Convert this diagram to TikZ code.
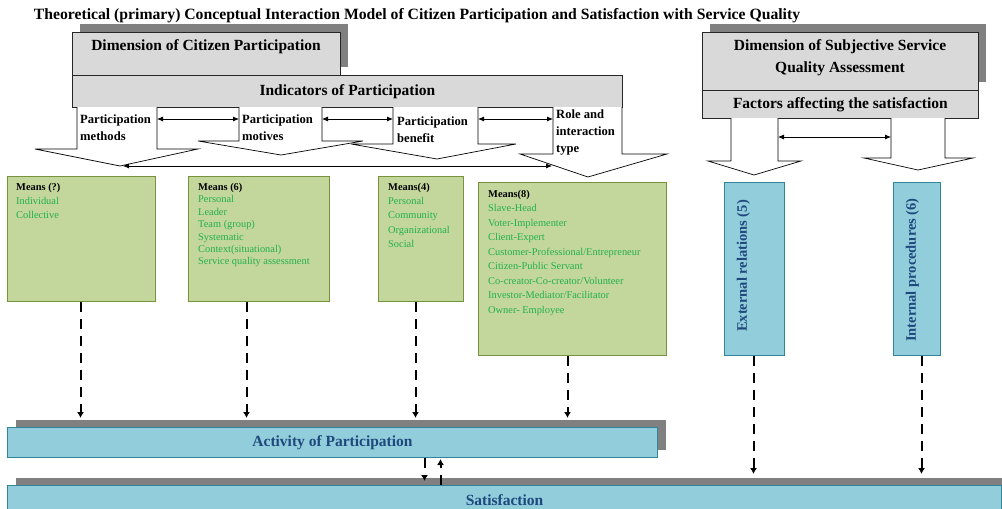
\documentclass[tikz,border=0pt]{standalone}
\usepackage{fontspec}
\setmainfont{Liberation Serif}
\usetikzlibrary{shadows,arrows.meta}
\definecolor{boxgray}{RGB}{217,217,217}
\definecolor{shgray}{RGB}{128,128,128}
\definecolor{gfill}{RGB}{195,214,155}
\definecolor{gdraw}{RGB}{118,146,60}
\definecolor{bfill}{RGB}{146,205,220}
\definecolor{bdraw}{RGB}{49,133,155}
\definecolor{btext}{RGB}{31,73,125}
\definecolor{gtext}{RGB}{34,177,76}

\begin{document}
\begin{tikzpicture}[x=1pt,y=1pt]
        \tikzstyle{every node}+=[inner sep=0pt]
        \tikzstyle{hbox}=[draw=black!85, line width=0.8pt, fill=boxgray, anchor=north west]
        \tikzstyle{shbox}=[drop shadow={shadow xshift=8pt, shadow yshift=8pt, fill=shgray, opacity=1}]
        \tikzstyle{hdtext}=[font=\fontsize{15.5}{22}\selectfont\bfseries]
        \tikzstyle{stemtext}=[font=\fontsize{12.6}{17}\selectfont\bfseries, align=left, anchor=west]
        \tikzstyle{gbox}=[draw=gdraw, line width=1pt, fill=gfill, anchor=north west]
        \tikzstyle{gtxt}=[text=gtext, align=left, anchor=north west]
        \tikzstyle{bbox}=[draw=bdraw, line width=1pt, fill=bfill, anchor=north west]
        \tikzstyle{vtext}=[text=btext, rotate=90, font=\fontsize{14.5}{17}\selectfont\bfseries]
        \tikzstyle{barrow}=[draw=black, line width=0.7pt, fill=white]
        \tikzstyle{dbl}=[{Latex[length=6pt,width=5pt]}-{Latex[length=6pt,width=5pt]}, line width=0.8pt]
        \tikzstyle{dasharr}=[-{Latex[length=6pt,width=7pt]}, line width=2pt, dash pattern=on 10pt off 7pt]
        \useasboundingbox (0,0) rectangle (1002,-509);
        \clip (0,0) rectangle (1002,-509);
        \node (title) at (417,-15.5) {\fontsize{15.7}{18}\selectfont\bfseries Theoretical (primary) Conceptual Interaction Model of Citizen Participation and Satisfaction with Service Quality};
        \node [hbox, shbox, minimum width=268pt, minimum height=43pt] (dimcp) at (72,-32) {};
        \node [hdtext] (dimcptxt) at (206,-47) {Dimension of Citizen Participation};
        \node [hbox, minimum width=550pt, minimum height=32pt, hdtext] (indic) at (72,-75) {Indicators of Participation};
        \node [hbox, shbox, minimum width=276pt, minimum height=58pt] (dimsq) at (702,-32) {};
        \node [hdtext, align=center] (dimsqtxt) at (840,-58) {Dimension of Subjective Service\\Quality Assessment};
        \node [hbox, minimum width=276pt, minimum height=28pt, hdtext] (fact) at (702,-90) {Factors affecting the satisfaction};
        \draw [barrow] (77,-107) -- (77,-149) -- (35,-149) -- (120,-166) -- (198,-149) -- (157,-149) -- (157,-107);
        \draw [barrow] (239,-107) -- (239,-141) -- (198,-141) -- (281,-155) -- (363,-141) -- (322,-141) -- (322,-107);
        \draw [barrow] (393,-107) -- (393,-144) -- (351,-144) -- (437,-159) -- (516,-144) -- (478,-144) -- (478,-107);
        \draw [barrow] (553,-107) -- (553,-154) -- (520,-154) -- (588,-177) -- (667,-154) -- (622,-154) -- (622,-107);
        \draw [barrow] (731,-118) -- (731,-161) -- (708,-161) -- (754,-175) -- (801,-161) -- (778,-161) -- (778,-118);
        \draw [barrow] (891,-118) -- (891,-158) -- (864,-158) -- (918,-170) -- (973,-158) -- (945,-158) -- (945,-118);
        \node [stemtext] (meth) at (80,-127.5) {Participation\\methods};
        \node [stemtext] (motv) at (242,-127.5) {Participation\\motives};
        \node [stemtext] (bene) at (397,-129.5) {Participation\\benefit};
        \node [stemtext] (role) at (556,-132) {Role and\\interaction\\type};
        \coordinate (a1r) at (157,-119);
        \coordinate (a2l) at (239,-119);
        \coordinate (a2r) at (322,-119);
        \coordinate (a3l) at (393,-119);
        \coordinate (a3r) at (478,-119);
        \coordinate (a4l) at (553,-119);
        \coordinate (lo1) at (123,-166);
        \coordinate (lo4) at (552,-166);
        \coordinate (b1r) at (778,-137);
        \coordinate (b2l) at (891,-137);
        \draw [dbl] (a1r) -- (a2l);
        \draw [dbl] (a2r) -- (a3l);
        \draw [dbl] (a3r) -- (a4l);
        \draw [dbl] (lo1) -- (lo4);
        \draw [dbl] (b1r) -- (b2l);
        \node [gbox, minimum width=148pt, minimum height=125pt] (m1) at (7,-176) {};
        \node [gbox, minimum width=141pt, minimum height=125pt] (m2) at (188,-176) {};
        \node [gbox, minimum width=85pt, minimum height=125pt] (m3) at (378,-176) {};
        \node [gbox, minimum width=188pt, minimum height=173pt] (m4) at (478,-182) {};
        \node [gtxt, font=\fontsize{10.4}{14}\selectfont] (m1txt) at (16,-183) {\textcolor{black}{\bfseries Means (?)}\\Individual\\Collective};
        \node [gtxt, font=\fontsize{10.4}{12.4}\selectfont] (m2txt) at (198,-183) {\textcolor{black}{\bfseries Means (6)}\\Personal\\Leader\\Team (group)\\Systematic\\Context(situational)\\Service quality assessment};
        \node [gtxt, font=\fontsize{10.4}{14.2}\selectfont] (m3txt) at (388,-183) {\textcolor{black}{\bfseries Means(4)}\\Personal\\Community\\Organizational\\Social};
        \node [gtxt, font=\fontsize{10.4}{14.5}\selectfont] (m4txt) at (488,-190) {\textcolor{black}{\bfseries Means(8)}\\Slave-Head\\Voter-Implementer\\Client-Expert\\Customer-Professional/Entrepreneur\\Citizen-Public Servant\\Co-creator-Co-creator/Volunteer\\Investor-Mediator/Facilitator\\Owner- Employee};
        \node [bbox, minimum width=60pt, minimum height=173pt] (ext) at (724,-182) {};
        \node [bbox, minimum width=47pt, minimum height=173pt] (int) at (893,-182) {};
        \node [vtext] (exttxt) at ([xshift=-11pt,yshift=3pt]ext.center) {External relations (5)};
        \node [vtext] (inttxt) at ([xshift=-4.5pt,yshift=-1pt]int.center) {Internal procedures (6)};
        \node [bbox, shbox, minimum width=650pt, minimum height=30pt, text=btext, hdtext] (act) at (7,-427) {Activity of Participation};
        \node [bbox, shbox, minimum width=994pt, minimum height=30pt, text=btext, hdtext] (sat) at (7,-485) {Satisfaction};
        \coordinate (d1) at ([xshift=-1pt]m1.south);
        \coordinate (d2) at ([xshift=-12.5pt]m2.south);
        \coordinate (d3) at ([xshift=-5.5pt]m3.south);
        \coordinate (d4) at ([xshift=-5pt]m4.south);
        \coordinate (d5) at ([xshift=-1pt]ext.south);
        \coordinate (d6) at ([xshift=4.5pt]int.south);
        \foreach \d in {d1,d2,d3,d4}
                \draw [dasharr, shorten >=9pt] (\d) -- (\d |- act.north);
        \foreach \d in {d5,d6}
                \draw [dasharr, shorten >=11pt] (\d) -- (\d |- sat.north);
        \coordinate (u1) at ([xshift=92pt]act.south);
        \coordinate (u2) at ([xshift=108pt]act.south);
        \draw [dasharr, shorten >=4pt] (u1) -- (u1 |- sat.north);
        \draw [dasharr, shorten >=1pt] (u2 |- sat.north) -- (u2);
\end{tikzpicture}
\end{document}
